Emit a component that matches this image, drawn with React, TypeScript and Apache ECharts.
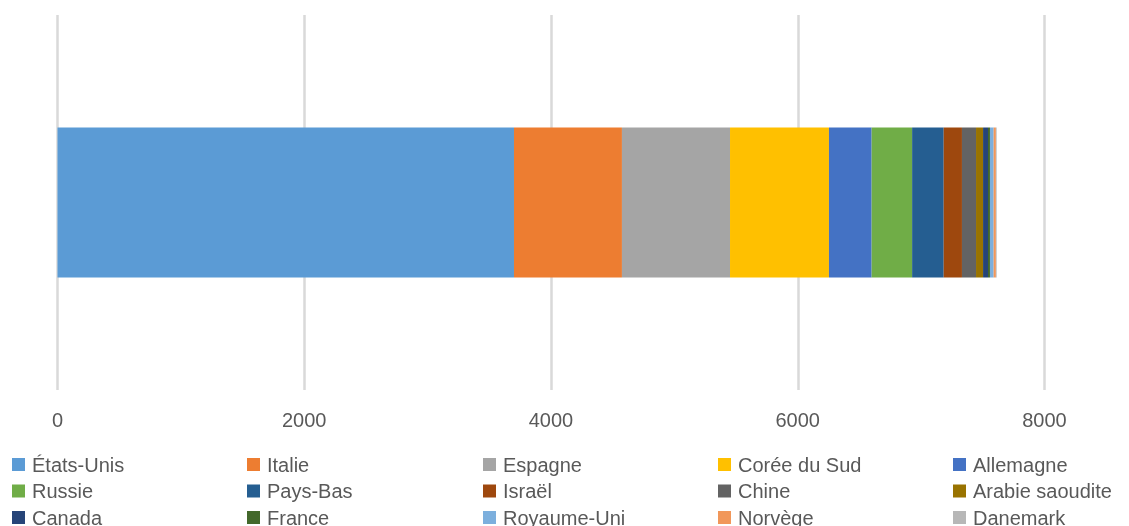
import React, { useEffect, useRef } from "react";
import * as echarts from "echarts";

const categories = [""];
const countries = [
  "États-Unis", "Italie", "Espagne", "Corée du Sud", "Allemagne",
  "Russie", "Pays-Bas", "Israël", "Chine", "Arabie saoudite",
  "Canada", "France", "Royaume-Uni", "Norvège", "Danemark",
];
const values = [3700, 875, 876, 802, 346, 328, 256, 148, 114, 57, 40, 16, 30, 18, 6];
const colors = [
  "#5B9BD5", "#ED7D31", "#A5A5A5", "#FFC000", "#4472C4",
  "#70AD47", "#255E91", "#9E480E", "#636363", "#997300",
  "#264478", "#43682B", "#7CAFDD", "#F1975A", "#B7B7B7",
];
const xTicks = { min: 0, max: 8000, interval: 2000 };

const FONT = "'Liberation Sans', Arial, sans-serif";

export default function App() {
  const ref = useRef<HTMLDivElement>(null);
  useEffect(() => {
    if (!ref.current) return;
    const chart = echarts.init(ref.current, null, { renderer: "svg" });
    const colLeft = [12, 247, 483, 718, 953];
    const rowTop = [454.5, 481, 507.5];
    const legends = countries.map((name, i) => ({
      data: [name],
      left: colLeft[i % 5],
      top: rowTop[Math.floor(i / 5)],
      padding: 0,
      itemWidth: 13,
      itemHeight: 13,
      icon: "rect",
      selectedMode: false,
      textStyle: {
        color: "#595959",
        fontSize: 20,
        fontFamily: FONT,
        lineHeight: 20,
        padding: [0, 0, 0, 2],
      },
    }));
    chart.setOption({
      animation: false,
      color: colors,
      grid: { left: 57.5, right: 84.5, top: 15, bottom: 136, containLabel: false },
      xAxis: {
        type: "value",
        min: xTicks.min,
        max: xTicks.max,
        interval: xTicks.interval,
        axisLine: { show: false },
        axisTick: { show: false },
        axisLabel: {
          color: "#595959",
          fontSize: 20,
          fontFamily: FONT,
          margin: 20,
          formatter: (v: number) => String(v),
        },
        splitLine: { show: true, lineStyle: { color: "#D9D9D9", width: 2.5 } },
      },
      yAxis: {
        type: "category",
        data: categories,
        axisLine: { show: false },
        axisTick: { show: false },
        axisLabel: { show: false },
      },
      legend: legends,
      series: countries.map((name, i) => ({
        name,
        type: "bar",
        stack: "total",
        barWidth: "40%",
        data: [values[i]],
        itemStyle: { color: colors[i] },
      })),
    });
    return () => chart.dispose();
  }, []);
  return (
    <div
      ref={ref}
      style={{ position: "fixed", left: 0, top: 0, width: 1129, height: 526 }}
    />
  );
}
